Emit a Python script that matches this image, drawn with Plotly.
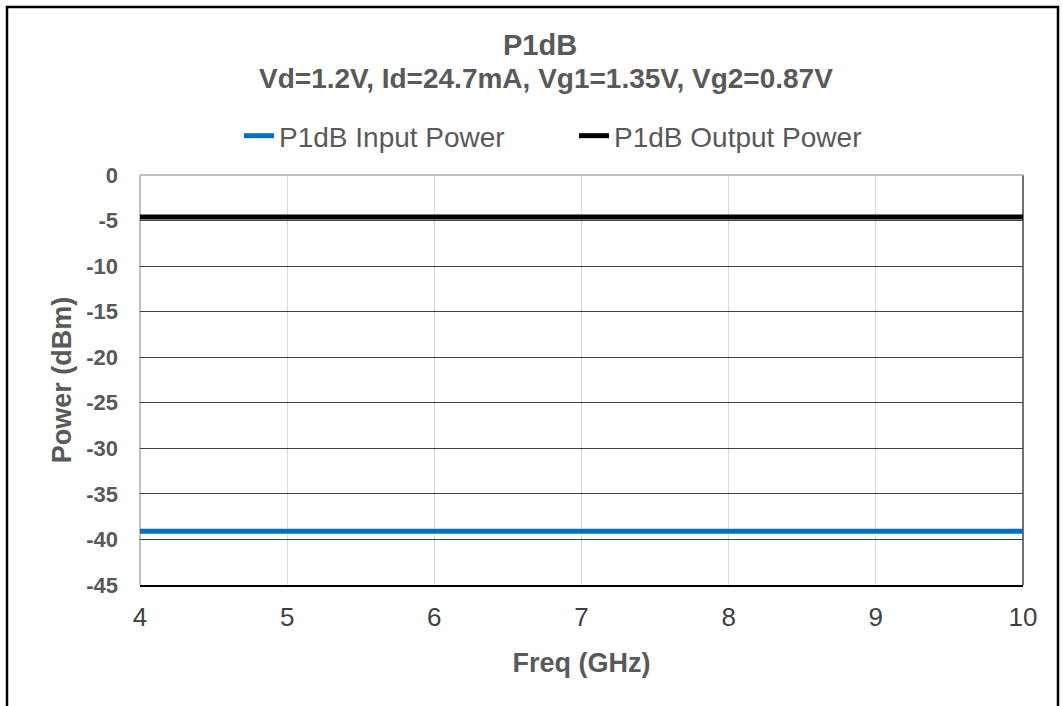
import plotly.graph_objects as go

freq_ghz = [4, 5, 6, 7, 8, 9, 10]
p1db_input = [-39.1, -39.1, -39.1, -39.1, -39.1, -39.1, -39.1]
p1db_output = [-4.6, -4.6, -4.6, -4.6, -4.6, -4.6, -4.6]
y_ticks = [0, -5, -10, -15, -20, -25, -30, -35, -40, -45]
y_tick_text = ["0", "-5", "-10", "-15", "-20", "-25", "-30", "-35", "-40", "-45"]
x_ticks = [4, 5, 6, 7, 8, 9, 10]

FONT = "Liberation Sans, Arial, sans-serif"
W, H = 1063, 706
L, R, T, B = 140, 40, 175, 121
PW = W - L - R
PH = H - T - B
BLUE = "#0070C0"
BLACK = "#000000"


def py(px):
    return (H - B - px) / PH


def px_(x):
    return (x - L) / PW


fig = go.Figure()
fig.add_trace(go.Scatter(x=freq_ghz, y=p1db_input, mode="lines", name="P1dB Input Power",
                         line=dict(color=BLUE, width=5)))
fig.add_trace(go.Scatter(x=freq_ghz, y=p1db_output, mode="lines", name="P1dB Output Power",
                         line=dict(color=BLACK, width=5)))

fig.update_layout(
    width=W, height=H,
    margin=dict(l=L, r=R, t=T, b=B),
    paper_bgcolor="white", plot_bgcolor="white",
    font=dict(family=FONT, color="#595959"),
    showlegend=True,
    legend=dict(orientation="h", x=px_(574), xanchor="center", y=py(136), yanchor="middle",
                font=dict(size=28, color="#595959", family=FONT),
                entrywidth=290, entrywidthmode="pixels",
                bgcolor="rgba(0,0,0,0)"),
    xaxis=dict(range=[4, 10], tickvals=x_ticks, showgrid=True, gridcolor="#d9d9d9", gridwidth=1,
               zeroline=False, showline=True, linecolor="#000000", linewidth=1.5,
               tickfont=dict(size=26, color="#404040", family=FONT), ticks="",
               ticklabelstandoff=8,
               title=dict(text="<b>Freq (GHz)</b>", font=dict(size=27, color="#595959", family=FONT),
                          standoff=22)),
    yaxis=dict(range=[-45, 0], tickvals=y_ticks, ticktext=["<b>%s</b>" % t for t in y_tick_text],
               showgrid=True, gridcolor="#404040", gridwidth=1,
               zeroline=False, showline=False,
               tickfont=dict(size=22, color="#595959", family=FONT), ticks="",
               ticklabelstandoff=21,
               title=dict(text="<b>Power (dBm)</b>", font=dict(size=27, color="#595959", family=FONT),
                          standoff=6)),
)

# Plot frame pieces
fig.add_shape(type="line", xref="paper", yref="paper", x0=0, x1=1, y0=1, y1=1,
              line=dict(color="#bfbfbf", width=2), layer="above")
fig.add_shape(type="line", xref="paper", yref="paper", x0=0, x1=0, y0=0, y1=1,
              line=dict(color="#bfbfbf", width=2), layer="below")
fig.add_shape(type="line", xref="paper", yref="paper", x0=1, x1=1, y0=0, y1=1,
              line=dict(color="#404040", width=1.5), layer="below")

# Outer chart border
fig.add_shape(type="rect", xref="paper", yref="paper",
              x0=px_(7), x1=px_(1058), y0=py(710), y1=py(7),
              line=dict(color="#000000", width=2.5), fillcolor="rgba(0,0,0,0)")

fig.add_annotation(text="<b>P1dB</b>", xref="paper", yref="paper", x=px_(540), y=py(45),
                   showarrow=False, font=dict(size=29, color="#595959", family=FONT),
                   xanchor="center", yanchor="middle")
fig.add_annotation(text="<b>Vd=1.2V, Id=24.7mA, Vg1=1.35V, Vg2=0.87V</b>", xref="paper", yref="paper",
                   x=px_(546), y=py(78),
                   showarrow=False, font=dict(size=28, color="#595959", family=FONT),
                   xanchor="center", yanchor="middle")

fig.write_html("out.html", post_script="document.body.style.margin='0';",
               config={"displayModeBar": False})
